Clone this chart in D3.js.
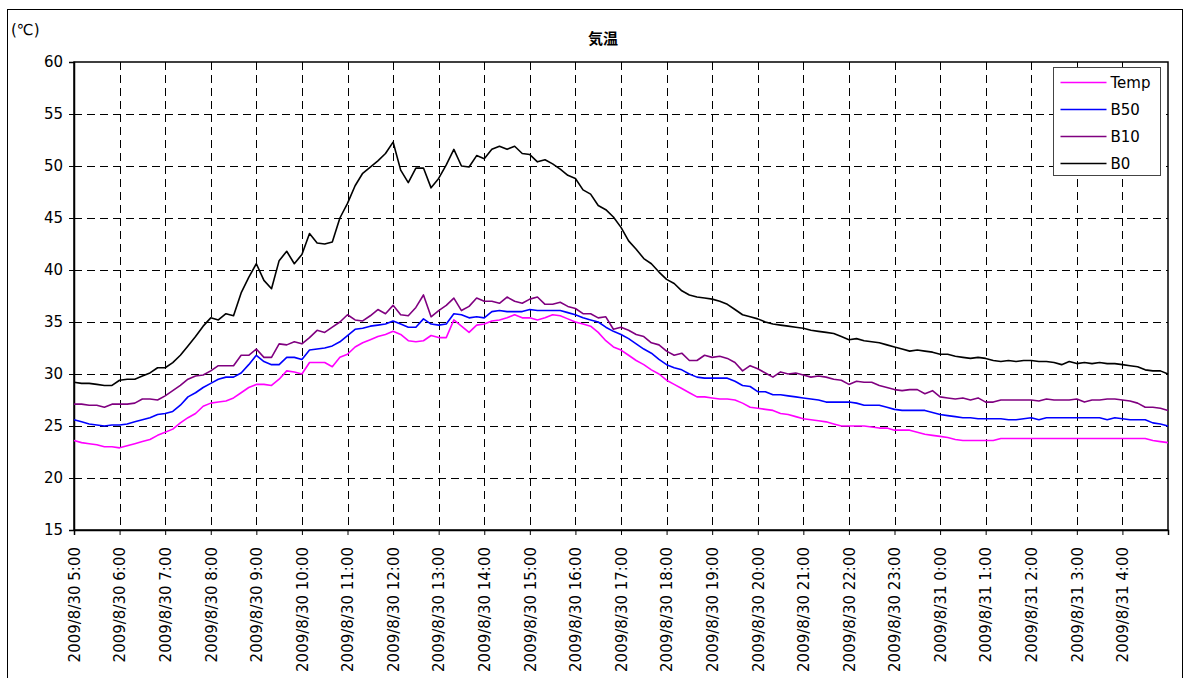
<!DOCTYPE html>
<html lang="ja">
<head>
  <meta charset="UTF-8">
  <title>気温</title>
  <script src="https://cdn.jsdelivr.net/npm/d3@7/dist/d3.min.js"></script>
  <style>
    body { margin: 0; background: #fff; }
    text { font-family: "DejaVu Sans", "Noto Sans CJK JP", sans-serif; fill: #000; }
  </style>
</head>
<body>
<div id="grafica"></div>

<script>
// 10-minute readings from 2009/8/30 5:00 to 2009/8/31 5:00
const inicio = new Date(2009, 7, 30, 5, 0)
const fin = new Date(2009, 7, 31, 5, 0)
const pasoMin = 10

const temp = [
  23.6, 23.4, 23.3, 23.2, 23.0, 23.0, 22.9, 23.1, 23.3, 23.5, 23.7, 24.1, 24.4, 24.7, 25.3, 25.8, 26.2, 26.9, 27.2, 27.3,
  27.4, 27.7, 28.2, 28.7, 29.0, 29.0, 28.9, 29.5, 30.3, 30.2, 30.0, 31.1, 31.1, 31.1, 30.7, 31.6, 31.9, 32.6, 33.0, 33.3,
  33.6, 33.8, 34.1, 33.8, 33.2, 33.1, 33.2, 33.7, 33.5, 33.5, 35.2, 34.6, 34.0, 34.7, 34.8, 35.1, 35.2, 35.4, 35.7, 35.4,
  35.4, 35.2, 35.4, 35.7, 35.6, 35.3, 35.0, 34.8, 34.6, 34.0, 33.2, 32.6, 32.3, 31.8, 31.3, 30.9, 30.4, 30.0, 29.4, 29.0,
  28.6, 28.2, 27.8, 27.8, 27.7, 27.6, 27.6, 27.5, 27.2, 26.8, 26.7, 26.6, 26.5, 26.2, 26.1, 25.9, 25.7, 25.6, 25.5, 25.4,
  25.2, 25.0, 25.0, 25.0, 25.0, 24.9, 24.8, 24.8, 24.6, 24.6, 24.6, 24.4, 24.2, 24.1, 24.0, 23.9, 23.7, 23.6, 23.6, 23.6,
  23.6, 23.6, 23.8, 23.8, 23.8, 23.8, 23.8, 23.8, 23.8, 23.8, 23.8, 23.8, 23.8, 23.8, 23.8, 23.8, 23.8, 23.8, 23.8, 23.8,
  23.8, 23.8, 23.6, 23.5, 23.4
]

const b50 = [
  25.6, 25.4, 25.2, 25.1, 25.0, 25.1, 25.1, 25.2, 25.4, 25.6, 25.8, 26.1, 26.2, 26.4, 27.0, 27.8, 28.2, 28.7, 29.1, 29.5,
  29.7, 29.7, 30.1, 30.9, 31.8, 31.2, 30.9, 30.9, 31.6, 31.6, 31.4, 32.3, 32.4, 32.5, 32.7, 33.1, 33.7, 34.3, 34.4, 34.6,
  34.7, 34.8, 35.1, 34.8, 34.5, 34.5, 35.3, 34.8, 34.7, 34.8, 35.8, 35.7, 35.4, 35.5, 35.4, 36.0, 36.1, 36.0, 36.0, 36.0,
  36.2, 36.1, 36.1, 36.1, 36.1, 35.9, 35.7, 35.4, 35.2, 35.0, 34.5, 34.1, 33.8, 33.4, 32.9, 32.4, 32.0, 31.4, 30.9, 30.6,
  30.4, 30.0, 29.7, 29.6, 29.6, 29.6, 29.6, 29.3, 28.9, 28.8, 28.3, 28.3, 28.0, 28.0, 27.9, 27.8, 27.7, 27.6, 27.5, 27.3,
  27.3, 27.3, 27.3, 27.2, 27.0, 27.0, 27.0, 26.8, 26.6, 26.5, 26.5, 26.5, 26.5, 26.3, 26.1, 26.0, 25.9, 25.8, 25.8, 25.7,
  25.7, 25.7, 25.7, 25.6, 25.6, 25.7, 25.8, 25.6, 25.8, 25.8, 25.8, 25.8, 25.8, 25.8, 25.8, 25.8, 25.6, 25.8, 25.7, 25.6,
  25.6, 25.6, 25.3, 25.2, 25.0
]

const b10 = [
  27.1, 27.1, 27.0, 27.0, 26.8, 27.1, 27.1, 27.1, 27.2, 27.6, 27.6, 27.5, 27.9, 28.4, 28.9, 29.5, 29.8, 29.9, 30.3, 30.8,
  30.8, 30.8, 31.8, 31.8, 32.4, 31.6, 31.6, 32.9, 32.8, 33.1, 32.9, 33.5, 34.2, 34.0, 34.5, 35.0, 35.7, 35.2, 35.1, 35.6,
  36.2, 35.8, 36.6, 35.7, 35.6, 36.4, 37.6, 35.5, 36.1, 36.6, 37.3, 36.1, 36.5, 37.3, 37.0, 37.0, 36.8, 37.4, 37.0, 36.8,
  37.2, 37.4, 36.7, 36.7, 36.9, 36.5, 36.3, 35.8, 35.8, 35.4, 35.5, 34.3, 34.5, 34.2, 33.8, 33.6, 33.0, 32.8, 32.2, 31.8,
  32.0, 31.3, 31.3, 31.8, 31.6, 31.7, 31.5, 31.1, 30.3, 30.8, 30.5, 30.1, 29.7, 30.2, 30.0, 30.1, 29.9, 29.7, 29.8, 29.7,
  29.5, 29.4, 29.0, 29.3, 29.2, 29.2, 28.9, 28.7, 28.5, 28.4, 28.5, 28.5, 28.1, 28.4, 27.8, 27.7, 27.6, 27.7, 27.5, 27.7,
  27.3, 27.3, 27.5, 27.5, 27.5, 27.5, 27.5, 27.4, 27.6, 27.5, 27.5, 27.5, 27.6, 27.3, 27.5, 27.5, 27.6, 27.6, 27.5, 27.4,
  27.2, 26.8, 26.8, 26.7, 26.5
]

const b0 = [
  29.2, 29.1, 29.1, 29.0, 28.9, 28.9, 29.4, 29.5, 29.5, 29.8, 30.1, 30.6, 30.6, 31.1, 31.8, 32.7, 33.6, 34.6, 35.4, 35.2,
  35.8, 35.6, 37.8, 39.3, 40.6, 39.0, 38.2, 40.9, 41.8, 40.6, 41.5, 43.5, 42.6, 42.5, 42.7, 45.0, 46.4, 48.1, 49.3, 49.9,
  50.5, 51.2, 52.3, 49.6, 48.4, 49.8, 49.8, 47.9, 48.8, 50.1, 51.6, 50.0, 49.9, 51.0, 50.7, 51.6, 51.9, 51.6, 51.9, 51.2,
  51.1, 50.4, 50.6, 50.2, 49.7, 49.1, 48.8, 47.7, 47.3, 46.2, 45.8, 45.1, 44.1, 42.8, 42.0, 41.1, 40.6, 39.8, 39.1, 38.7,
  38.0, 37.6, 37.4, 37.3, 37.2, 37.0, 36.7, 36.2, 35.7, 35.5, 35.3, 35.0, 34.8, 34.7, 34.6, 34.5, 34.4, 34.2, 34.1, 34.0,
  33.9, 33.6, 33.3, 33.4, 33.2, 33.1, 33.0, 32.8, 32.6, 32.4, 32.2, 32.3, 32.2, 32.1, 31.9, 31.9, 31.7, 31.6, 31.5, 31.6,
  31.5, 31.3, 31.2, 31.3, 31.2, 31.3, 31.3, 31.2, 31.2, 31.1, 30.9, 31.2, 31.0, 31.1, 31.0, 31.1, 31.0, 31.0, 30.9, 30.8,
  30.7, 30.4, 30.3, 30.3, 30.0
]

const nombres = ['Temp', 'B50', 'B10', 'B0']
const colores = ['#ff00ff', '#0000ff', '#800080', '#000000']
const valoresY = [15, 20, 25, 30, 35, 40, 45, 50, 55, 60]

const series = [temp, b50, b10, b0].map((vals, i) => ({
  nombre: nombres[i],
  color: colores[i],
  puntos: vals.map((v, j) => ({ t: d3.timeMinute.offset(inicio, j * pasoMin), v: v }))
}))

const ancho_total = 1190
const alto_total = 678
const margin = { left: 74, right: 22, top: 62, bottom: 148 }
const ancho = ancho_total - margin.left - margin.right
const alto = alto_total - margin.top - margin.bottom

const svg = d3.select('#grafica')
  .append('svg')
  .attr('width', ancho_total)
  .attr('height', alto_total)

// outer frame of the chart
svg.append('rect')
  .attr('x', 7.5).attr('y', 9.5)
  .attr('width', 1175).attr('height', 700)
  .attr('fill', 'none').attr('stroke', '#000').attr('stroke-width', 1)

svg.append('text')
  .attr('x', 11).attr('y', 35)
  .style('font-size', '15px')
  .text('(℃)')

svg.append('text')
  .attr('x', 603).attr('y', 44)
  .attr('text-anchor', 'middle')
  .style('font-size', '15px')
  .style('font-weight', 'bold')
  .style('font-family', '"Noto Sans CJK JP", sans-serif')
  .text('気温')

const g = svg.append('g')
  .attr('transform', `translate(${margin.left}, ${margin.top})`)

const x = d3.scaleTime().domain([inicio, fin]).range([0, ancho])
const y = d3.scaleLinear().domain([15, 60]).range([alto, 0])
const horas = d3.timeHour.range(inicio, fin)

// grid
g.append('g')
  .selectAll('line')
  .data(valoresY.slice(1, -1))
  .enter().append('line')
    .attr('x1', 0).attr('x2', ancho)
    .attr('y1', d => Math.round(y(d)) + 0.5).attr('y2', d => Math.round(y(d)) + 0.5)
    .attr('stroke', '#000').attr('stroke-dasharray', '8,5')

g.append('g')
  .selectAll('line')
  .data(horas.slice(1))
  .enter().append('line')
    .attr('x1', d => Math.round(x(d)) + 0.5).attr('x2', d => Math.round(x(d)) + 0.5)
    .attr('y1', 0).attr('y2', alto)
    .attr('stroke', '#000').attr('stroke-dasharray', '8,5')

// plot border
g.append('rect')
  .attr('x', 0).attr('y', 0)
  .attr('width', ancho).attr('height', alto)
  .attr('fill', 'none').attr('stroke', '#000').attr('stroke-width', 1.5)

// axes
const yAxisCall = d3.axisLeft(y).tickValues(valoresY).tickSize(5).tickPadding(6)
const ejeY = g.append('g').call(yAxisCall)
ejeY.select('.domain').attr('stroke-width', 1.5)
ejeY.selectAll('text').style('font-size', '15px').style('font-family', '"DejaVu Sans", sans-serif')

const fmt = d3.timeFormat('%Y/%-m/%-d %-H:%M')
const xAxisCall = d3.axisBottom(x).tickValues(horas.concat([fin])).tickSize(5).tickFormat(d => +d === +fin ? '' : fmt(d))
const ejeX = g.append('g')
  .attr('transform', `translate(0, ${alto})`)
  .call(xAxisCall)
ejeX.select('.domain').attr('stroke-width', 1.5)
ejeX.selectAll('text')
  .attr('y', 0).attr('x', -17)
  .attr('dy', '0.35em')
  .attr('text-anchor', 'end')
  .attr('transform', 'rotate(-90)')
  .style('font-size', '15px')
  .style('font-family', '"DejaVu Sans", sans-serif')

// lines
const linea = d3.line().x(d => x(d.t)).y(d => y(d.v))

g.append('g')
  .selectAll('path')
  .data(series.slice().reverse())
  .enter().append('path')
    .attr('d', d => linea(d.puntos))
    .attr('fill', 'none')
    .attr('stroke', d => d.color)
    .attr('stroke-width', 1.6)
    .attr('stroke-linejoin', 'round')

// legend
const leyenda = svg.append('g').attr('transform', 'translate(1053.5, 67.5)')
leyenda.append('rect')
  .attr('width', 107).attr('height', 108)
  .attr('fill', '#fff').attr('stroke', '#444').attr('stroke-width', 1)

const item = leyenda.selectAll('g.item')
  .data(series)
  .enter().append('g')
    .attr('class', 'item')
    .attr('transform', (d, i) => `translate(0, ${15 + i * 27})`)
item.append('line')
  .attr('x1', 7).attr('x2', 53)
  .attr('stroke', d => d.color).attr('stroke-width', 1.6)
item.append('text')
  .attr('x', 57).attr('dy', '0.35em')
  .style('font-size', '15px')
  .text(d => d.nombre)
</script>
</body>
</html>
